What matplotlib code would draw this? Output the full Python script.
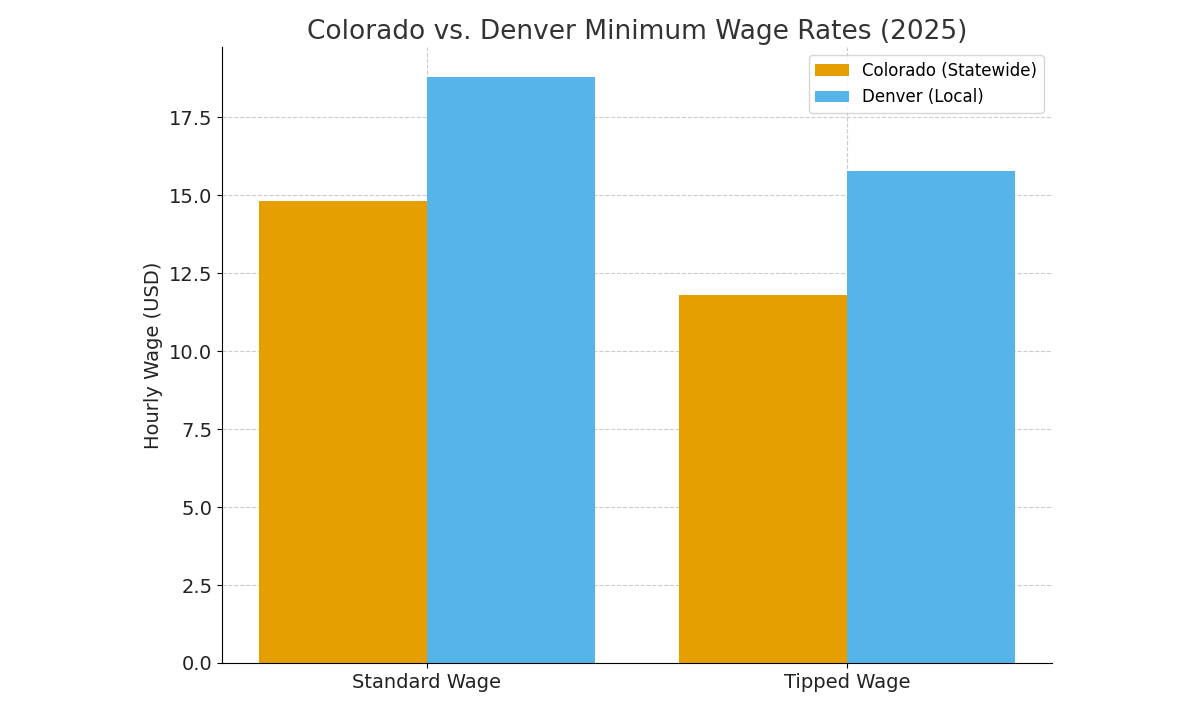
import matplotlib
matplotlib.use("Agg")
import matplotlib.pyplot as plt
import numpy as np

categories = ["Standard Wage", "Tipped Wage"]
colorado = [14.81, 11.79]
denver = [18.81, 15.79]

fig = plt.figure(figsize=(12, 7.06), dpi=100)
ax = fig.add_axes([222/1200, 1-663/706, (1052-222)/1200, (663-47)/706])
x = np.arange(len(categories))
w = 0.4
ax.bar(x - w/2, colorado, w, color="#E69F00", label="Colorado (Statewide)", zorder=2)
ax.bar(x + w/2, denver, w, color="#56B4E9", label="Denver (Local)", zorder=2)
ax.set_xticks(x)
ax.set_xticklabels(categories, fontsize=14, color="#222222")
ax.set_yticks(np.arange(0, 18, 2.5))
ax.set_yticklabels([f"{v:.1f}" for v in np.arange(0, 18, 2.5)], fontsize=14, color="#222222")
ax.set_ylim(0, 19.76)
ax.set_xlim(-0.488, 1.488)
ax.set_ylabel("Hourly Wage (USD)", fontsize=14, color="#222222")
ax.set_title("Colorado vs. Denver Minimum Wage Rates (2025)", fontsize=19, color="#333333", pad=6)
ax.grid(True, linestyle="--", color="#cccccc", linewidth=0.8, zorder=0)
ax.spines["top"].set_visible(False)
ax.spines["right"].set_visible(False)
ax.legend(loc="upper right", fontsize=12)
fig.savefig("out.png", dpi=100)
